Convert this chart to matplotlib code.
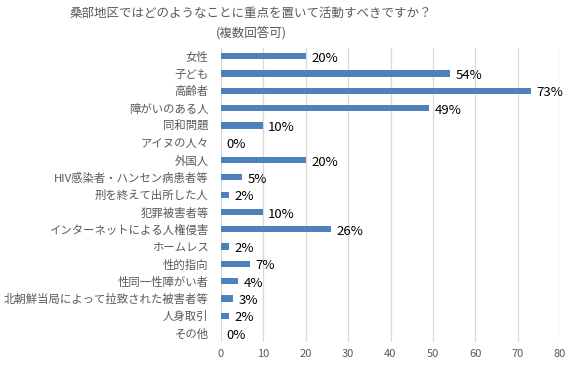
import matplotlib
matplotlib.use("Agg")
import matplotlib.pyplot as plt

plt.rcParams['font.family'] = ['Noto Sans CJK JP', 'DejaVu Sans']

categories = ["女性", "子ども", "高齢者", "障がいのある人", "同和問題", "アイヌの人々", "外国人",
              "HIV感染者・ハンセン病患者等", "刑を終えて出所した人", "犯罪被害者等",
              "インターネットによる人権侵害", "ホームレス", "性的指向", "性同一性障がい者",
              "北朝鮮当局によって拉致された被害者等", "人身取引", "その他"]
values = [20.1, 54.1, 73.2, 49.1, 9.8, 0.0, 20.1, 5.0, 1.9, 9.8, 26.0, 1.9, 6.9, 4.0, 2.8, 1.9, 0.0]
xticks = [0, 10, 20, 30, 40, 50, 60, 70, 80]
title = "桑部地区ではどのようなことに重点を置いて活動すべきですか？\n(複数回答可)"

fig = plt.figure(figsize=(5.78, 3.69), dpi=100)
ax = fig.add_axes([221/578, 0.074, 339/578, 0.797])

y = list(range(len(categories)))
ax.barh(y, values, height=0.36, color="#4F81BD", zorder=3)
for yi, v in zip(y, values):
    ax.annotate(f"{round(v)}%", (v, yi), xytext=(4, -1.5), textcoords="offset points",
                ha="left", va="center", fontsize=9.5, color="#000000")

ax.set_xlim(0, 80)
ax.set_ylim(len(categories) - 0.5, -0.5)
ax.set_xticks(xticks)
ax.set_xticklabels([str(t) for t in xticks])
ax.set_yticks(y)
ax.set_yticklabels(categories)
ax.tick_params(axis='x', length=0, pad=5, labelsize=8, labelcolor="#595959")
ax.tick_params(axis='y', length=0, pad=9, labelsize=8.2, labelcolor="#595959")
ax.grid(axis='x', color="#D9D9D9", linewidth=0.9, zorder=0)
for s in ax.spines.values():
    s.set_visible(False)

fig.text(251/578, 1 - 7/369, title, ha="center", va="top", fontsize=9.0,
         color="#595959", linespacing=1.6)

fig.savefig("out.png", dpi=100)
